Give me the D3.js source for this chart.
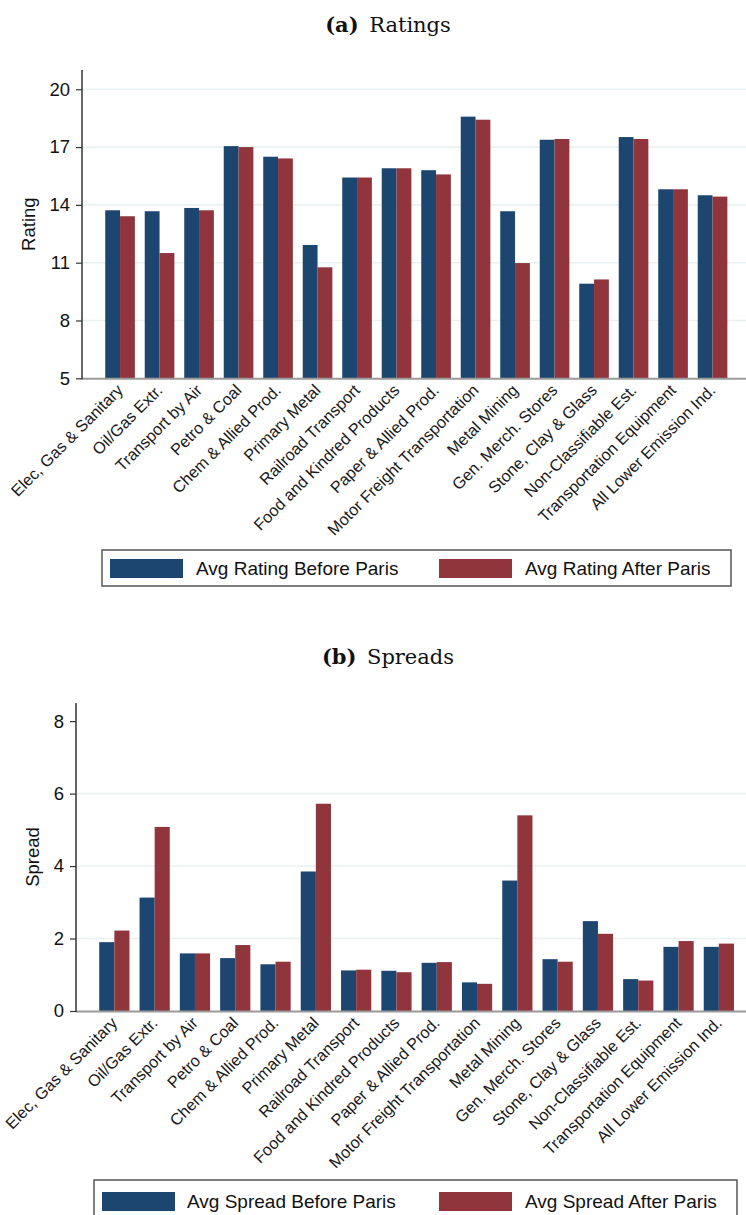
<!DOCTYPE html>
<html>
<head>
<meta charset="utf-8">
<script src="https://cdn.jsdelivr.net/npm/d3@7"></script>
<style>
  html, body { margin: 0; padding: 0; background: #ffffff; }
  svg { display: block; }
  .sans { font-family: "Liberation Sans", Arial, sans-serif; }
</style>
</head>
<body>
<svg id="fig" width="746" height="1215"></svg>
<script>
// Industries shown along the x axis of both panels
const industries = [
  "Elec, Gas & Sanitary", "Oil/Gas Extr.", "Transport by Air", "Petro & Coal",
  "Chem & Allied Prod.", "Primary Metal", "Railroad Transport", "Food and Kindred Products",
  "Paper & Allied Prod.", "Motor Freight Transportation", "Metal Mining", "Gen. Merch. Stores",
  "Stone, Clay & Glass", "Non-Classifiable Est.", "Transportation Equipment", "All Lower Emission Ind."
];

// Panel (a): average credit rating
const ratingBefore = [13.72, 13.67, 13.84, 17.05, 16.50, 11.92, 15.42, 15.90, 15.80, 18.58, 13.67, 17.38, 9.91, 17.52, 14.81, 14.50];
const ratingAfter  = [13.41, 11.50, 13.72, 17.00, 16.41, 10.76, 15.42, 15.90, 15.58, 18.42, 10.98, 17.42, 10.13, 17.42, 14.81, 14.43];
const ratingTicks = [5, 8, 11, 14, 17, 20];
const ratingGrid  = [8, 11, 14, 17, 20];

// Panel (b): average spread
const spreadBefore = [1.90, 3.13, 1.59, 1.46, 1.29, 3.85, 1.12, 1.11, 1.33, 0.79, 3.60, 1.43, 2.48, 0.88, 1.77, 1.77];
const spreadAfter  = [2.22, 5.08, 1.59, 1.82, 1.36, 5.72, 1.14, 1.07, 1.35, 0.75, 5.40, 1.36, 2.13, 0.84, 1.93, 1.86];
const spreadTicks = [0, 2, 4, 6, 8];
const spreadGrid  = [2, 4, 6];

const seriesKeys = ["before", "after"];
const colors = { before: "#1c466f", after: "#8f353b" };

const svg = d3.select("#fig");

function panel(cfg) {
  const g = svg.append("g");

  // Panel caption
  const cap = g.append("text")
    .attr("x", cfg.titleX).attr("y", cfg.titleY)
    .attr("text-anchor", "middle")
    .style("font-family", "'DejaVu Serif', 'Liberation Serif', serif")
    .style("font-size", "21px")
    .attr("fill", "#111");
  cap.append("tspan").style("font-weight", "bold").text(cfg.tag);
  cap.append("tspan").text("\u2002" + cfg.title);

  const y = d3.scaleLinear().domain(cfg.domain).range([cfg.yBottom, cfg.yTop]);
  const x = d3.scaleBand().domain(industries).range(cfg.bandRange)
    .paddingInner(0.25).paddingOuter(0.125);
  const xs = d3.scaleBand().domain(seriesKeys).range([0, x.bandwidth()]);

  // Horizontal grid lines
  g.append("g").selectAll("line").data(cfg.grid).join("line")
    .attr("x1", cfg.axisX + 1).attr("x2", 746)
    .attr("y1", d => y(d)).attr("y2", d => y(d))
    .attr("stroke", "#eaf1f2").attr("stroke-width", 1.6);

  // Bars
  const rows = industries.map((name, i) => ({ name, before: cfg.before[i], after: cfg.after[i] }));
  g.append("g").selectAll("g").data(rows).join("g")
    .attr("transform", d => `translate(${x(d.name)},0)`)
    .selectAll("rect")
    .data(d => seriesKeys.map(k => ({ key: k, value: d[k] })))
    .join("rect")
      .attr("x", d => xs(d.key))
      .attr("width", xs.bandwidth())
      .attr("y", d => y(d.value))
      .attr("height", d => y(cfg.domain[0]) - y(d.value))
      .attr("fill", d => colors[d.key]);

  // X axis line
  g.append("line")
    .attr("x1", cfg.axisX).attr("x2", 746)
    .attr("y1", cfg.yBottom + 0.5).attr("y2", cfg.yBottom + 0.5)
    .attr("stroke", "#9a9a9a").attr("stroke-width", 2);

  // Rotated category labels
  g.append("g").selectAll("text").data(industries).join("text")
    .attr("class", "sans")
    .attr("transform", d => `translate(${x(d) + x.bandwidth() / 2 + 4},${cfg.yBottom + 13}) rotate(-45)`)
    .attr("text-anchor", "end")
    .style("font-size", "16.3px")
    .attr("fill", "#1a1a1a")
    .text(d => d);

  // Y axis
  const ax = g.append("g")
    .attr("transform", `translate(${cfg.axisX},0)`)
    .call(d3.axisLeft(y).tickValues(cfg.ticks).tickSize(6).tickPadding(6).tickSizeOuter(0));
  ax.select(".domain").attr("stroke", "#333").attr("stroke-width", 1.5)
    .attr("d", `M0,${cfg.yTop}V${cfg.yBottom + 1}`);
  ax.selectAll(".tick line").attr("stroke", "#333").attr("stroke-width", 1.2);
  ax.selectAll(".tick text")
    .attr("class", "sans")
    .style("font-size", "18.5px")
    .attr("fill", "#111");

  // Y axis title
  g.append("text")
    .attr("class", "sans")
    .attr("transform", `translate(${cfg.yTitleX},${(cfg.yTop + cfg.yBottom) / 2}) rotate(-90)`)
    .attr("text-anchor", "middle")
    .style("font-size", "18.5px")
    .attr("fill", "#111")
    .text(cfg.yTitle);

  // Legend
  const L = cfg.legend;
  g.append("rect")
    .attr("x", L.x).attr("y", L.y).attr("width", L.w).attr("height", L.h)
    .attr("fill", "#fff").attr("stroke", "#555").attr("stroke-width", 1.5);
  seriesKeys.forEach((k, i) => {
    g.append("rect")
      .attr("x", L.sw[i]).attr("y", L.sy).attr("width", 73).attr("height", 19)
      .attr("fill", colors[k]);
    g.append("text")
      .attr("class", "sans")
      .attr("x", L.tx[i]).attr("y", L.sy + 16)
      .style("font-size", "19px")
      .attr("fill", "#111")
      .text(cfg.legendLabels[i]);
  });
}

panel({
  tag: "(a)", title: "Ratings", titleX: 388, titleY: 32,
  domain: [5, 21], yTop: 70, yBottom: 378.3,
  axisX: 82, bandRange: [100.3, 732.3],
  ticks: ratingTicks, grid: ratingGrid,
  before: ratingBefore, after: ratingAfter,
  yTitle: "Rating", yTitleX: 35,
  legendLabels: ["Avg Rating Before Paris", "Avg Rating After Paris"],
  legend: { x: 102, y: 550, w: 629, h: 36, sw: [110, 439], sy: 559, tx: [196, 525] }
});

panel({
  tag: "(b)", title: "Spreads", titleX: 388, titleY: 664,
  domain: [0, 8.5], yTop: 703, yBottom: 1011,
  axisX: 76, bandRange: [94.2, 739],
  ticks: spreadTicks, grid: spreadGrid,
  before: spreadBefore, after: spreadAfter,
  yTitle: "Spread", yTitleX: 39,
  legendLabels: ["Avg Spread Before Paris", "Avg Spread After Paris"],
  legend: { x: 94, y: 1180, w: 643, h: 40, sw: [102, 439], sy: 1192, tx: [187, 525] }
});
</script>
</body>
</html>
